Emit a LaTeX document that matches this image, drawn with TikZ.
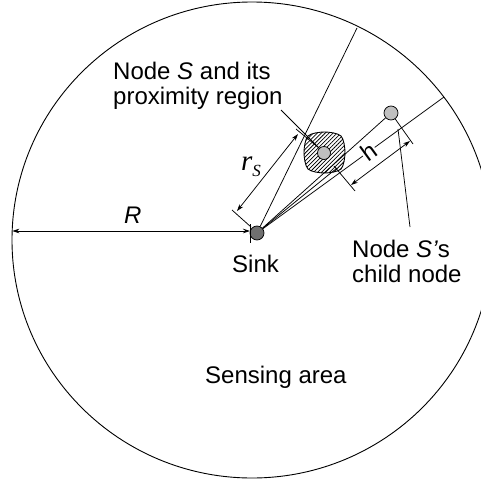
\documentclass[tikz,border=0pt]{standalone}
\usepackage{fontspec}
\setmainfont{Liberation Sans}
\newfontfamily\timesf{Liberation Serif}
\usetikzlibrary{arrows.meta,patterns.meta}
\definecolor{sinkgray}{RGB}{112,112,112}
\definecolor{nodegray}{RGB}{192,192,192}
\begin{document}
\begin{tikzpicture}[x=1pt,y=-1pt,
  lbl/.style={font=\fontsize{24}{26}\selectfont, inner sep=0pt, anchor=base west},
  dimarrow/.style={{Stealth[length=7pt,width=4.5pt]}-{Stealth[length=7pt,width=4.5pt]}, line width=0.75pt},
  thinline/.style={line width=0.75pt},
  dot/.style={circle, draw, line width=0.75pt, minimum size=14pt, inner sep=0pt}]
\useasboundingbox (0,0) rectangle (481,482);
\clip (0,0) rectangle (481,482);

% sensing area
\draw[line width=0.9pt] (252,240) ellipse [x radius=240pt, y radius=238pt];

% proximity region
\draw[line width=0.9pt, pattern={Lines[angle=45,distance=2.8pt,line width=0.75pt]}]
  plot[smooth cycle] coordinates {(345,152.5) (341,136) (324.5,132) (308,136) (304,152.5) (308,169) (324.5,173) (341,169)};

% nodes
\node[dot, fill=sinkgray] (sink) at (257,233) {};
\node[dot, fill=nodegray, minimum size=13pt] (S) at (324,153) {};
\node[dot, fill=nodegray] (child) at (391,113) {};

% coordinates
\coordinate (aend) at (357,28);
\coordinate (bend) at (337,168);
\coordinate (dend) at (444,97);
\coordinate (Rl) at (12.3,231);
\coordinate (Rr) at (250,231);
\coordinate (Rt1) at (250,224);
\coordinate (Rt2) at (250,243);
\coordinate (rs1) at (237,211);
\coordinate (rs2) at (298,134);
\coordinate (rt1) at (251,227);
\coordinate (rt2) at (232,210);
\coordinate (rt3) at (319,148);
\coordinate (rt4) at (296,129);
\coordinate (lead1) at (281,110);
\coordinate (h1) at (351,185);
\coordinate (h2) at (410,141);
\coordinate (ht1) at (334,166);
\coordinate (ht2) at (355,191);
\coordinate (ht3) at (413,144);
\coordinate (cl1) at (398,129);
\coordinate (cl2) at (410,227);

% rays from sink
\draw[thinline] (sink) -- (aend);
\draw[thinline] (sink) -- (bend);
\draw[thinline] (sink) -- (child);
\draw[thinline] (sink) -- (dend);

% R dimension
\draw[dimarrow] (Rl) -- (Rr);
\draw[thinline] (Rt1) -- (Rt2);
\node[lbl] (Rlab) at (124,223) {\textit{R}};

% r_S dimension
\draw[dimarrow] (rs1) -- (rs2);
\draw[thinline] (rt1) -- (rt2);
\draw[thinline] (rt3) -- (rt4);
\node[inner sep=0pt, anchor=base west] (rslab) at (241,170)
  {\timesf\itshape\fontsize{29}{29}\selectfont r\raisebox{-6pt}{\fontsize{17}{17}\selectfont S}};

% h dimension
\draw[dimarrow] (h1) -- (h2);
\draw[thinline] (ht1) -- (ht2);
\draw[thinline] (child) -- (ht3);
\node[font=\fontsize{24}{24}\selectfont, rotate=36, fill=white, inner sep=0.5pt] (hlab) at (369,152) {h};

% leaders
\draw[thinline] (lead1) -- (S);
\draw[thinline] (cl1) -- (cl2);

% labels
\node[lbl] (t1) at (113,79) {Node \textit{S} and its};
\node[lbl] (t2) at (113,104) {proximity region};
\node[lbl] (c1) at (352,257) {Node \textit{S'}s};
\node[lbl] (c2) at (352,282) {child node};
\node[lbl] (sinklab) at (232,272) {Sink};
\node[lbl] (area) at (205,383) {Sensing area};
\end{tikzpicture}
\end{document}
